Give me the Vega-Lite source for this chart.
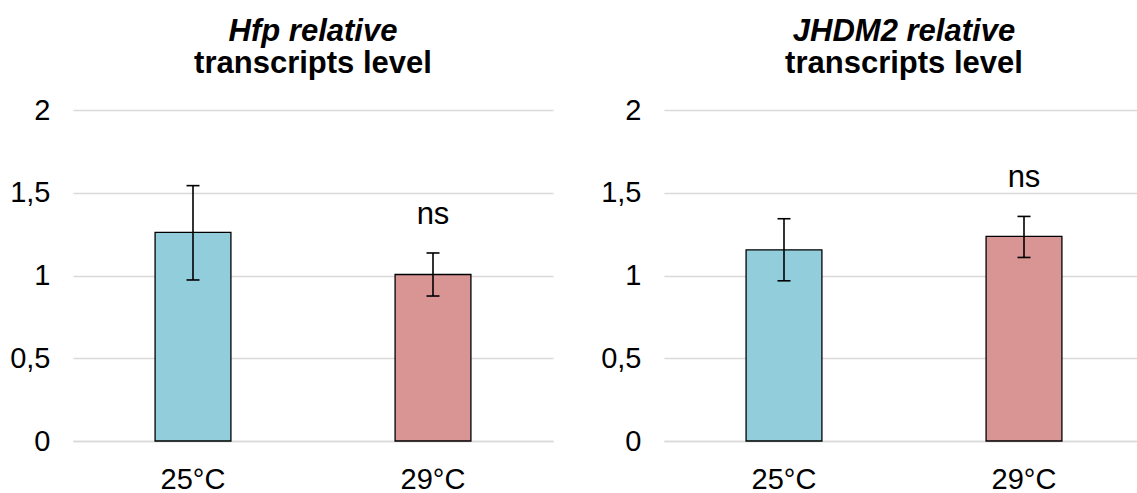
{
  "$schema": "https://vega.github.io/schema/vega-lite/v6.json",
  "padding": {"left": 9, "top": 16, "right": 0, "bottom": 0},
  "background": "#ffffff",
  "config": {
    "font": "Liberation Sans",
    "view": {"stroke": null},
    "concat": {"spacing": 47},
    "axis": {"labelFont": "Liberation Sans", "labelFontSize": 29, "labelColor": "#000000", "title": null, "ticks": false}
  },
  "data": {"values": [
    {"gene": "Hfp", "temp": "25°C", "value": 1.26, "lo": 0.973, "hi": 1.543, "sig": ""},
    {"gene": "Hfp", "temp": "29°C", "value": 1.006, "lo": 0.876, "hi": 1.136, "sig": "ns"},
    {"gene": "JHDM2", "temp": "25°C", "value": 1.155, "lo": 0.968, "hi": 1.343, "sig": ""},
    {"gene": "JHDM2", "temp": "29°C", "value": 1.236, "lo": 1.109, "hi": 1.357, "sig": "ns"}
  ]},
  "hconcat": [
    {
      "title": {"text": "Hfp relative", "subtitle": "transcripts level", "font": "Liberation Sans", "subtitleFont": "Liberation Sans", "fontSize": 31, "fontStyle": "italic", "fontWeight": "bold", "color": "#000000", "subtitleFontSize": 31, "subtitleFontWeight": "bold", "subtitleColor": "#000000", "subtitlePadding": 1, "offset": 16, "anchor": "middle"},
      "width": 480,
      "height": 331,
      "transform": [{"filter": "datum.gene === 'Hfp'"}],
      "encoding": {
        "x": {"field": "temp", "type": "nominal", "sort": null, "scale": {"paddingInner": 0, "paddingOuter": 0},
          "axis": {"labelAngle": 0, "labelPadding": 24, "domain": true, "domainColor": "#d9d9d9", "domainWidth": 1.5, "grid": false}}
      },
      "layer": [
        {"mark": {"type": "bar", "width": {"band": 0.316}, "stroke": "#000000", "strokeWidth": 1.3},
          "encoding": {
            "y": {"field": "value", "type": "quantitative", "scale": {"domain": [0, 2]},
              "axis": {"values": [0, 0.5, 1, 1.5, 2], "format": "~g", "grid": true, "gridColor": "#d9d9d9", "gridWidth": 1.5, "domain": false, "labelPadding": 23, "labelExpr": "replace(datum.label, '.', ',')"}},
            "color": {"field": "temp", "type": "nominal", "scale": {"domain": ["25°C", "29°C"], "range": ["#92CDDC", "#D99594"]}, "legend": null}
          }},
        {"mark": {"type": "rule", "strokeWidth": 1.6, "color": "#000000"},
          "encoding": {"y": {"field": "lo", "type": "quantitative"}, "y2": {"field": "hi"}}},
        {"mark": {"type": "tick", "size": 13, "thickness": 1.6, "color": "#000000", "opacity": 1},
          "encoding": {"y": {"field": "lo", "type": "quantitative"}}},
        {"mark": {"type": "tick", "size": 13, "thickness": 1.6, "color": "#000000", "opacity": 1},
          "encoding": {"y": {"field": "hi", "type": "quantitative"}}},
        {"mark": {"type": "text", "dy": -38, "fontSize": 31, "font": "Liberation Sans", "color": "#000000", "baseline": "middle"},
          "encoding": {"y": {"field": "hi", "type": "quantitative"}, "text": {"field": "sig"}}}
      ]
    },
    {
      "title": {"text": "JHDM2 relative", "subtitle": "transcripts level", "font": "Liberation Sans", "subtitleFont": "Liberation Sans", "fontSize": 31, "fontStyle": "italic", "fontWeight": "bold", "color": "#000000", "subtitleFontSize": 31, "subtitleFontWeight": "bold", "subtitleColor": "#000000", "subtitlePadding": 1, "offset": 16, "anchor": "middle"},
      "width": 480,
      "height": 331,
      "transform": [{"filter": "datum.gene === 'JHDM2'"}],
      "encoding": {
        "x": {"field": "temp", "type": "nominal", "sort": null, "scale": {"paddingInner": 0, "paddingOuter": 0},
          "axis": {"labelAngle": 0, "labelPadding": 24, "domain": true, "domainColor": "#d9d9d9", "domainWidth": 1.5, "grid": false}}
      },
      "layer": [
        {"mark": {"type": "bar", "width": {"band": 0.316}, "stroke": "#000000", "strokeWidth": 1.3},
          "encoding": {
            "y": {"field": "value", "type": "quantitative", "scale": {"domain": [0, 2]},
              "axis": {"values": [0, 0.5, 1, 1.5, 2], "format": "~g", "grid": true, "gridColor": "#d9d9d9", "gridWidth": 1.5, "domain": false, "labelPadding": 23, "labelExpr": "replace(datum.label, '.', ',')"}},
            "color": {"field": "temp", "type": "nominal", "scale": {"domain": ["25°C", "29°C"], "range": ["#92CDDC", "#D99594"]}, "legend": null}
          }},
        {"mark": {"type": "rule", "strokeWidth": 1.6, "color": "#000000"},
          "encoding": {"y": {"field": "lo", "type": "quantitative"}, "y2": {"field": "hi"}}},
        {"mark": {"type": "tick", "size": 13, "thickness": 1.6, "color": "#000000", "opacity": 1},
          "encoding": {"y": {"field": "lo", "type": "quantitative"}}},
        {"mark": {"type": "tick", "size": 13, "thickness": 1.6, "color": "#000000", "opacity": 1},
          "encoding": {"y": {"field": "hi", "type": "quantitative"}}},
        {"mark": {"type": "text", "dy": -38, "fontSize": 31, "font": "Liberation Sans", "color": "#000000", "baseline": "middle"},
          "encoding": {"y": {"field": "hi", "type": "quantitative"}, "text": {"field": "sig"}}}
      ]
    }
  ]
}
